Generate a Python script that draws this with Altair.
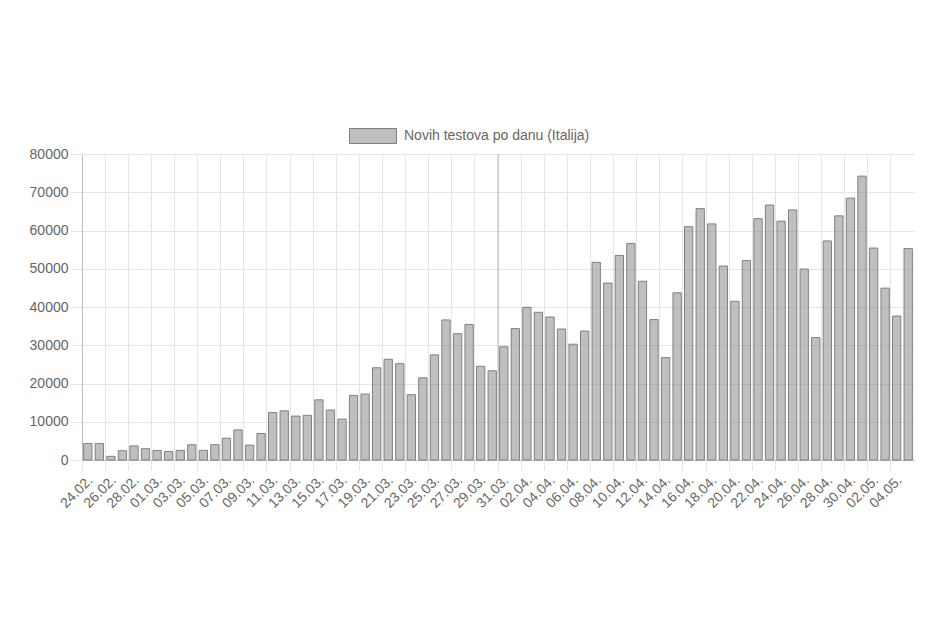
import altair as alt
import pandas as pd

dates = [
    "24.02.", "25.02.", "26.02.", "27.02.", "28.02.", "29.02.",
    "01.03.", "02.03.", "03.03.", "04.03.", "05.03.", "06.03.", "07.03.", "08.03.", "09.03.", "10.03.",
    "11.03.", "12.03.", "13.03.", "14.03.", "15.03.", "16.03.", "17.03.", "18.03.", "19.03.", "20.03.",
    "21.03.", "22.03.", "23.03.", "24.03.", "25.03.", "26.03.", "27.03.", "28.03.", "29.03.", "30.03.",
    "31.03.",
    "01.04.", "02.04.", "03.04.", "04.04.", "05.04.", "06.04.", "07.04.", "08.04.", "09.04.", "10.04.",
    "11.04.", "12.04.", "13.04.", "14.04.", "15.04.", "16.04.", "17.04.", "18.04.", "19.04.", "20.04.",
    "21.04.", "22.04.", "23.04.", "24.04.", "25.04.", "26.04.", "27.04.", "28.04.", "29.04.", "30.04.",
    "01.05.", "02.05.", "03.05.", "04.05.", "05.05.",
]
tests = [
    4324, 4299, 964, 2427, 3681, 2966,
    2466, 2218, 2511, 3981, 2525, 3997, 5703, 7875, 3889, 6935,
    12393, 12857, 11477, 11682, 15729, 13063, 10695, 16884, 17236, 24109,
    26336, 25180, 17066, 21496, 27481, 36615, 33019, 35447, 24504, 23329,
    29609,
    34346, 39918, 38617, 37375, 34237, 30271, 33713, 51680, 46244, 53495,
    56609, 46720, 36717, 26779, 43715, 60999, 65705, 61725, 50708, 41483,
    52126, 63101, 66658, 62447, 65387, 49916, 32003, 57272, 63827, 68456,
    74208, 55412, 44935, 37631, 55263,
]
series_name = "Novih testova po danu (Italija)"
label_dates = dates[::2]
y_ticks = [0, 10000, 20000, 30000, 40000, 50000, 60000, 70000, 80000]
highlight_date = "31.03."

df = pd.DataFrame({"datum": dates, "testovi": tests, "serija": series_name})

FONT = "Liberation Sans"
GRID = "#e6e6e6"
AXIS_DARK = "#bfbfbf"
TEXT = "#666666"

x_scale = alt.Scale(paddingInner=0, paddingOuter=0)
x_axis = alt.Axis(
    values=label_dates, bandPosition=0, labelOffset=3,
    labelAngle=-45, labelAlign="right", labelBaseline="middle",
    grid=True, gridColor=GRID, gridWidth=1, tickColor=GRID, tickSize=10,
    domainColor=AXIS_DARK, title=None, labelFontSize=14, labelColor=TEXT,
    labelFont=FONT, labelPadding=8, labelOverlap=False, labelBound=False,
)
y_axis = alt.Axis(
    values=y_ticks, title=None, grid=True, gridColor=GRID, tickColor=GRID,
    tickSize=12, labelPadding=2, domainColor=AXIS_DARK, format="d",
    labelFontSize=14, labelColor=TEXT, labelFont=FONT,
)

rule = alt.Chart(df).transform_filter(
    alt.datum.datum == highlight_date
).mark_rule(color="#000000", opacity=0.25, strokeWidth=1).encode(
    x=alt.X("datum:N", sort=dates, bandPosition=0, scale=x_scale, axis=x_axis),
)

bars = alt.Chart(df).mark_bar(
    width=alt.RelativeBandSize(0.72), stroke="#808080", strokeWidth=1
).encode(
    x=alt.X("datum:N", sort=dates, scale=x_scale, axis=x_axis),
    y=alt.Y("testovi:Q", scale=alt.Scale(domain=[0, 80000], nice=False), axis=y_axis),
    fill=alt.Fill(
        "serija:N",
        scale=alt.Scale(range=["rgba(128,128,128,0.5)"]),
        legend=alt.Legend(
            title=None, orient="none", legendX=267, legendY=-42,
            symbolType="M-1,-0.319L1,-0.319L1,0.319L-1,0.319Z", symbolSize=2209,
            symbolStrokeColor="#808080", symbolStrokeWidth=1,
            labelFontSize=14, labelColor=TEXT, labelFont=FONT, labelOffset=7,
            labelLimit=0, padding=0,
        ),
    ),
)

chart = alt.layer(rule, bars).properties(
    width=832, height=306,
    autosize=alt.AutoSizeParams(type="none"),
    padding={"left": 74, "top": 146, "right": 16, "bottom": 60},
).configure_view(stroke=None)

chart.save("out.html", embed_options={"renderer": "svg", "actions": False})
